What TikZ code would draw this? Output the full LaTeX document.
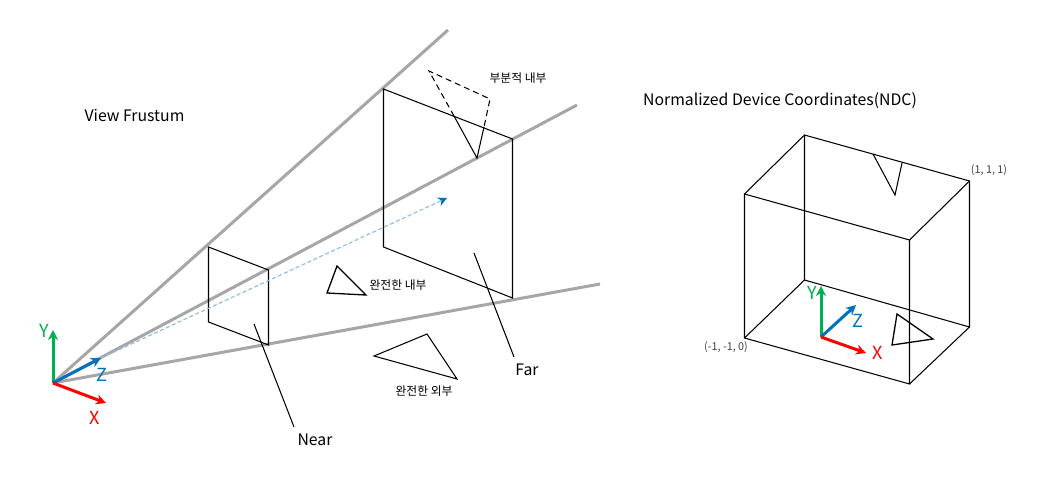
\documentclass[tikz,border=0pt]{standalone}
\usepackage{fontspec}
\setmainfont{Noto Sans CJK KR}
\usetikzlibrary{arrows.meta,positioning}
\definecolor{raygray}{HTML}{A6A6A6}
\definecolor{axisblue}{HTML}{0070C0}
\definecolor{axisgreen}{HTML}{00B050}
\definecolor{viewblue}{HTML}{8FC0E8}

\begin{document}
\begin{tikzpicture}[
  x=1pt,y=-1pt,
  >={Stealth[length=10pt,width=10pt]},
  ray/.style={line width=3pt,raygray},
  edge/.style={line width=1.05pt,black},
  thinedge/.style={line width=1.05pt,black},
  dashedge/.style={edge,dashed,dash pattern=on 6pt off 4pt},
  axisx/.style={->,line width=3pt,red},
  axisy/.style={->,line width=3pt,axisgreen},
  axisz/.style={->,line width=3pt,axisblue},
  lab/.style={font=\fontsize{15.8}{18}\selectfont,inner sep=0pt},
  klab/.style={font=\fontsize{11.8}{14}\selectfont,inner sep=0pt},
  clab/.style={font=\fontsize{10.8}{13}\selectfont,inner sep=0pt,black!75},
  axlab/.style={font=\fontsize{18}{20}\selectfont,inner sep=0pt}
]
  \useasboundingbox (0,0) rectangle (1044,477);

  \coordinate (o) at (53,383);
  \coordinate (r1) at (448,30);
  \coordinate (r2) at (577,105);
  \coordinate (r3) at (600,284);
  \draw[ray] (o) -- (r1);
  \draw[ray] (o) -- (r2);
  \draw[ray] (o) -- (r3);

  \coordinate (n1) at (208.5,247);
  \coordinate (n2) at (268.5,270);
  \coordinate (n3) at (268.5,345);
  \coordinate (n4) at (208.5,322);
  \draw[edge] (n1) -- (n2) -- (n3) -- (n4) -- cycle;

  \coordinate (f1) at (383.5,89);
  \coordinate (f2) at (512.5,139);
  \coordinate (f3) at (512.5,298);
  \coordinate (f4) at (383.5,247);
  \draw[edge] (f1) -- (f2) -- (f3) -- (f4) -- cycle;

  \coordinate (vz) at (101,358);
  \coordinate (vend) at (447,198);
  \draw[->,viewblue,line width=1.2pt,dashed,dash pattern=on 4pt off 2.5pt,
    >={Stealth[length=9pt,width=9pt,axisblue]}] (vz) -- (vend);

  \coordinate (p1) at (429,71);
  \coordinate (p2) at (490,99);
  \coordinate (p3) at (484,127);
  \coordinate (p4) at (477,158);
  \coordinate (p5) at (454,116);
  \draw[dashedge] (p5) -- (p1) -- (p2) -- (p3);
  \draw[edge] (p3) -- (p4) -- (p5);

  \coordinate (i1) at (337,266);
  \coordinate (i2) at (366,295);
  \coordinate (i3) at (327,293);
  \draw[edge,line width=1.3pt] (i1) -- (i2) -- (i3) -- cycle;

  \coordinate (e1) at (427,334);
  \coordinate (e2) at (457,379);
  \coordinate (e3) at (374,356);
  \draw[edge] (e1) -- (e2) -- (e3) -- cycle;

  \node[lab] (near) at (315,440) {Near};
  \node[lab] (far) at (527,370) {Far};
  \coordinate (nl) at (254,324);
  \coordinate (nle) at (294,427);
  \coordinate (fl) at (474,253);
  \coordinate (fle) at (514,357);
  \draw[thinedge] (nl) -- (nle);
  \draw[thinedge] (fl) -- (fle);

  \coordinate (ox) at (106,403);
  \coordinate (oy) at (53,330);
  \draw[axisy] (o) -- (oy);
  \draw[axisz] (o) -- (vz);
  \draw[axisx] (o) -- (ox);
  \node[axlab,axisgreen] (ly) at (44,331) {Y};
  \node[axlab,axisblue] (lz) at (102,375) {Z};
  \node[axlab,red] (lx) at (95,418) {X};

  \node[lab] (title1) at (134.5,115) {View Frustum};
  \node[lab] (title2) at (780,101) {Normalized Device Coordinates(NDC)};
  \node[klab] (kpart) at (518,78) {부분적 내부};
  \node[klab] (kin) at (398,285) {완전한 내부};
  \node[klab] (kout) at (424,391) {완전한 외부};

  \coordinate (b1) at (804.5,135);
  \coordinate (b2) at (969.5,181);
  \coordinate (b3) at (969.5,327);
  \coordinate (b4) at (804.5,280);
  \coordinate (c1) at (744.5,194);
  \coordinate (c2) at (909.5,240);
  \coordinate (c3) at (909.5,384);
  \coordinate (c4) at (744.5,338);
  \draw[edge] (b1) -- (b2) -- (b3) -- (b4) -- cycle;
  \draw[edge] (c1) -- (c2) -- (c3) -- (c4) -- cycle;
  \draw[edge] (b1) -- (c1);
  \draw[edge] (b2) -- (c2);
  \draw[edge] (b3) -- (c3);
  \draw[edge] (b4) -- (c4);

  \coordinate (t1) at (873,154);
  \coordinate (t2) at (895,195);
  \coordinate (t3) at (902,163);
  \draw[edge] (t1) -- (t2) -- (t3);

  \coordinate (s1) at (897,314);
  \coordinate (s2) at (933,339);
  \coordinate (s3) at (892,345);
  \draw[edge,line width=1.3pt] (s1) -- (s2) -- (s3) -- cycle;

  \coordinate (no) at (821,337);
  \coordinate (nx) at (866,353);
  \coordinate (ny) at (821,286);
  \coordinate (nz) at (856,305);
  \draw[axisy] (no) -- (ny);
  \draw[axisz] (no) -- (nz);
  \draw[axisx] (no) -- (nx);
  \node[axlab,axisgreen] (nly) at (812,293) {Y};
  \node[axlab,axisblue] (nlz) at (858,321) {Z};
  \node[axlab,red] (nlx) at (878,353) {X};

  \node[clab] (hi) at (989,170) {(1, 1, 1)};
  \node[clab] (lo) at (726,347) {(-1, -1, 0)};
\end{tikzpicture}
\end{document}
